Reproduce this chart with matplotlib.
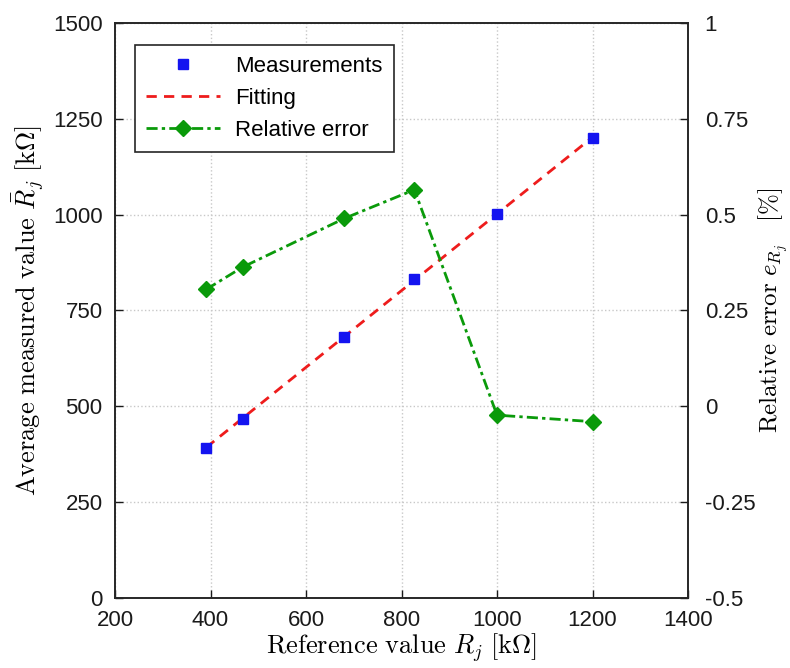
import numpy as np
import matplotlib
matplotlib.use('Agg')
import matplotlib.pyplot as plt

plt.rcParams['mathtext.fontset'] = 'cm'
plt.rcParams['font.family'] = ['Liberation Sans', 'DejaVu Sans']

# data
ref_vals = [391, 467, 680, 827, 1000, 1200]          # reference value R_j [kOhm]
meas_vals = [392, 468, 682, 832, 1001, 1201]         # average measured value [kOhm]
rel_err = [0.305, 0.363, 0.49, 0.565, -0.023, -0.04] # relative error [%]

x_ticks = [200, 400, 600, 800, 1000, 1200, 1400]
y_ticks = [0, 250, 500, 750, 1000, 1250, 1500]
y2_ticks = [-0.5, -0.25, 0, 0.25, 0.5, 0.75, 1]
y2_labels = ['-0.5', '-0.25', '0', '0.25', '0.5', '0.75', '1']

# linear fit of the measurements
p = np.polyfit(ref_vals, meas_vals, 1)
fit_x = np.array([ref_vals[0], ref_vals[-1]])
fit_y = np.polyval(p, fit_x)

fig = plt.figure(figsize=(7.9, 6.68), dpi=100)
ax = fig.add_axes([0.1456, 0.1048, 0.7253, 0.8608])
ax2 = ax.twinx()

h1, = ax.plot(ref_vals, meas_vals, 's', color='#1414f0', markersize=7.5,
              label='Measurements', zorder=4)
h2, = ax.plot(fit_x, fit_y, '--', color='#ee1c1c', lw=2, dashes=(3.7, 2.6),
              label='Fitting', zorder=3)
h3, = ax2.plot(ref_vals, rel_err, '-.', color='#0a9a0a', lw=2, marker='D',
               markersize=8, dashes=(4, 1.5, 1.2, 1.5), label='Relative error')

ax.set_xlim(200, 1400)
ax.set_ylim(0, 1500)
ax2.set_ylim(-0.5, 1)
ax.set_xticks(x_ticks)
ax.set_yticks(y_ticks)
ax2.set_yticks(y2_ticks)
ax2.set_yticklabels(y2_labels)

ax.grid(True, ls=':', color='#c8c8c8', lw=1)
for a in (ax, ax2):
    a.tick_params(direction='in', labelsize=16, length=6, width=1, colors='#1a1a1a')
    for s in a.spines.values():
        s.set_color('#262626')
        s.set_linewidth(1.2)
ax.tick_params(axis='x', pad=9)
ax.tick_params(axis='y', pad=9)
ax2.tick_params(axis='y', pad=12)

ax.set_xlabel(r'$\mathrm{Reference\ value}\ R_j\ [\mathrm{k}\Omega]$', fontsize=19, labelpad=0)
ax.set_ylabel(r'$\mathrm{Average\ measured\ value}\ \bar{R}_j\ [\mathrm{k}\Omega]$', fontsize=19, labelpad=4)
ax2.set_ylabel(r'$\mathrm{Relative\ error}\ e_{R_j}\ \ \ [\%]$', fontsize=18, labelpad=1)

leg = ax.legend(handles=[h1, h2, h3], loc='upper left', bbox_to_anchor=(0.035, 0.962),
                borderaxespad=0, fontsize=16, fancybox=False, framealpha=1,
                edgecolor='#262626', handlelength=3.3, handletextpad=0.7,
                borderpad=0.5, labelspacing=0.5)
leg.get_frame().set_linewidth(1.2)
leg.set_zorder(10)

fig.savefig('out.png', dpi=100)
